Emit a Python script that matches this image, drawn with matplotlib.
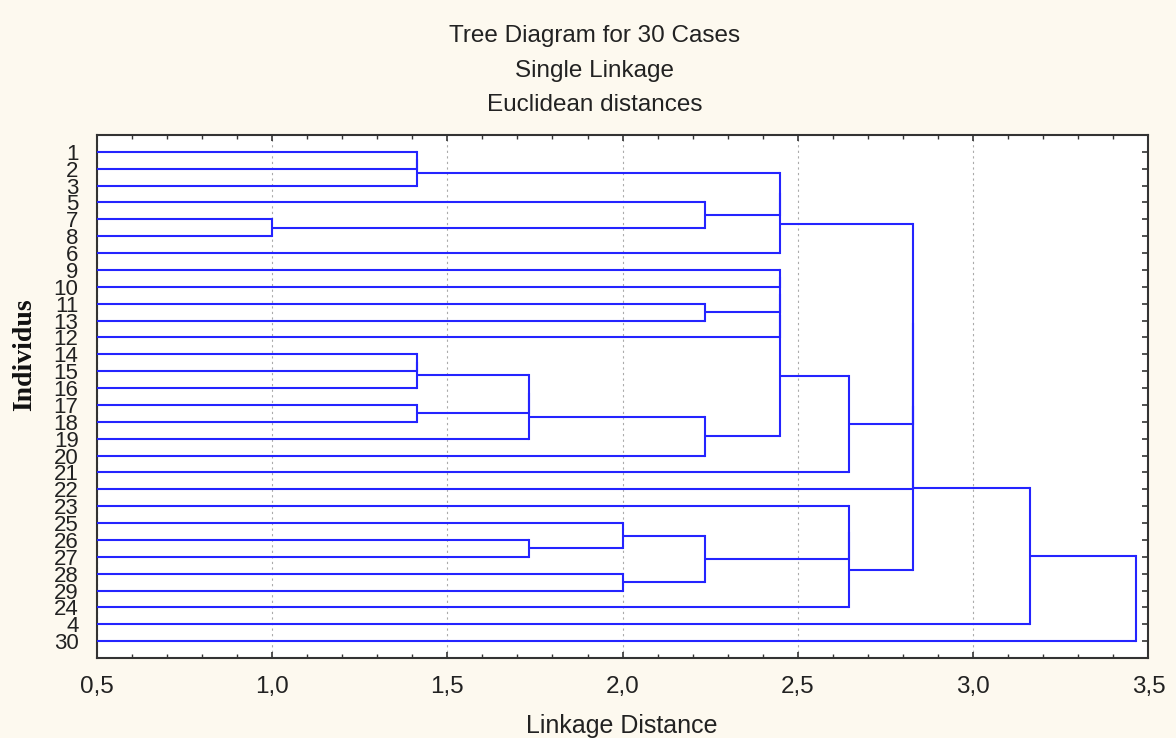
import matplotlib
matplotlib.use("Agg")
import matplotlib.pyplot as plt
from matplotlib.ticker import MultipleLocator, FixedLocator, FixedFormatter

# ---- data -------------------------------------------------------------
title_lines = ["Tree Diagram for 30 Cases", "Single Linkage", "Euclidean distances"]
x_label = "Linkage Distance"
y_label = "Individus"

# leaf order, top to bottom
leaf_labels = ["1", "2", "3", "5", "7", "8", "6", "9", "10", "11", "13", "12",
               "14", "15", "16", "17", "18", "19", "20", "21", "22", "23", "25",
               "26", "27", "28", "29", "24", "4", "30"]

# binary merges (leaf label or "nK" = result of merge K) and linkage distances
merge_left = ["1", "n0", "7", "5", "n1", "n4", "11", "14", "n7", "17", "n8",
              "n10", "n11", "9", "n13", "n14", "n15", "n16", "26", "25", "28",
              "n19", "23", "n22", "n5", "n24", "n25", "n26", "n27"]
merge_right = ["2", "3", "8", "n2", "n3", "6", "13", "15", "16", "18", "n9",
               "19", "20", "10", "n6", "12", "n12", "21", "27", "n18", "29",
               "n20", "n21", "24", "n17", "22", "n23", "4", "30"]
merge_height = [1.414, 1.414, 1.0, 2.236, 2.449, 2.449, 2.236, 1.414, 1.414,
                1.414, 1.732, 1.732, 2.236, 2.449, 2.449, 2.449, 2.449, 2.646,
                1.732, 2.0, 2.0, 2.236, 2.646, 2.646, 2.828, 2.828, 2.828,
                3.162, 3.464]

x_ticks = [0.5, 1.0, 1.5, 2.0, 2.5, 3.0, 3.5]
x_tick_labels = ["0,5", "1,0", "1,5", "2,0", "2,5", "3,0", "3,5"]

# ---- figure -----------------------------------------------------------
bg = "#fdf9ef"
line_col = "#2424ff"
sans = ["Liberation Sans", "DejaVu Sans"]
fig = plt.figure(figsize=(11.76, 7.38), dpi=100, facecolor=bg)
ax = fig.add_axes([0.0822, 0.1084, 0.8944, 0.7087])
ax.set_facecolor("white")

x_min, x_max = x_ticks[0], x_ticks[-1]
pos = {lab: float(i) for i, lab in enumerate(leaf_labels)}
hgt = {lab: x_min for lab in leaf_labels}

for k, (a, b, h) in enumerate(zip(merge_left, merge_right, merge_height)):
    for c in (a, b):
        ax.plot([hgt[c], h], [pos[c], pos[c]], color=line_col, lw=1.5,
                solid_capstyle="butt", zorder=3)
    ax.plot([h, h], [pos[a], pos[b]], color=line_col, lw=1.5,
            solid_capstyle="projecting", zorder=3)
    node = "n%d" % k
    pos[node] = (pos[a] + pos[b]) / 2.0
    hgt[node] = h

ax.set_xlim(x_min, x_max)
ax.set_ylim(len(leaf_labels), -1)

ax.xaxis.set_major_locator(FixedLocator(x_ticks))
ax.xaxis.set_major_formatter(FixedFormatter(x_tick_labels))
ax.xaxis.set_minor_locator(MultipleLocator(0.1))
ax.set_yticks(range(len(leaf_labels)))
ax.set_yticklabels(leaf_labels)

for t in ax.get_xticklabels():
    t.set_fontsize(17.5)
    t.set_family(sans)
    t.set_color("#222222")
for t in ax.get_yticklabels():
    t.set_fontsize(16)
    t.set_family(sans)
    t.set_color("#222222")

ax.tick_params(axis="x", which="major", direction="in", top=True, bottom=True,
               length=4, width=1.2, pad=13, color="#333333")
ax.tick_params(axis="x", which="minor", direction="in", top=True, bottom=True,
               length=3, width=1.0, color="#333333")
ax.tick_params(axis="y", which="major", direction="in", left=True, right=True,
               length=4, width=1.2, pad=13, color="#333333")

ax.grid(axis="x", which="major", color="#aaaaaa", linestyle=(0, (2, 3)), lw=0.8, zorder=1)
for s in ax.spines.values():
    s.set_color("#333333")
    s.set_linewidth(1.5)

ys = [0.951, 0.904, 0.858]
for txt, y in zip(title_lines, ys):
    fig.text(0.5055, y, txt, ha="center", va="center", fontsize=17.5,
             family=sans, color="#222222")

fig.text(0.529, 0.016, x_label, ha="center", va="center", fontsize=18,
         family=sans, color="#222222")
fig.text(0.021, 0.52, y_label, ha="center", va="center", rotation=90,
         fontsize=20, fontweight="bold",
         family=["Liberation Serif", "DejaVu Serif"], color="#111111")

fig.savefig("out.png", dpi=100, facecolor=bg)
